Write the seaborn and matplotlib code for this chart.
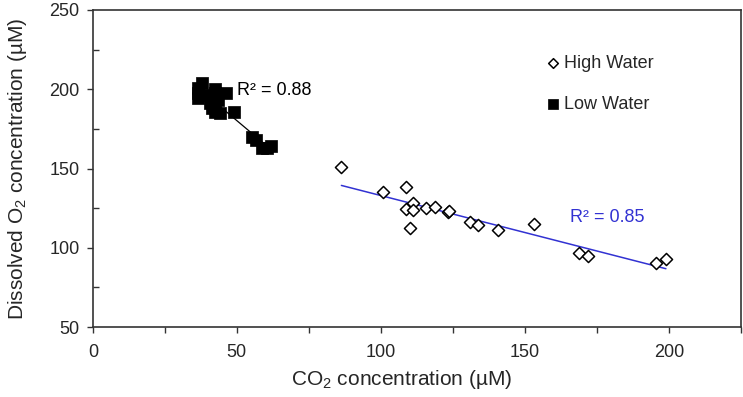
import numpy as np
import pandas as pd
import seaborn as sns
import matplotlib.pyplot as plt
from matplotlib.ticker import MultipleLocator

# High water (open diamonds)
high_co2 = [86.3, 100.8, 108.7, 111.2, 108.7, 111.2, 110.1, 115.6, 118.8, 123.2, 123.7,
            131.1, 133.8, 140.7, 153.2, 168.9, 172.0, 195.7, 199.0]
high_o2 = [151.1, 135.0, 138.1, 128.0, 124.4, 123.8, 112.3, 124.9, 125.5, 122.6, 123.3,
           116.4, 114.4, 111.2, 115.0, 96.5, 95.0, 90.6, 92.7]

# Low water (filled squares)
low_co2 = [38.0, 36.6, 36.6, 36.6, 42.4, 46.2, 38.3, 41.2, 42.4, 40.6, 41.2, 42.4,
           44.1, 43.5, 49.0, 55.1, 56.6, 58.6, 60.3, 62.0]
low_o2 = [204.1, 200.6, 197.4, 194.3, 200.0, 197.4, 196.4, 195.3, 197.4, 191.1, 188.0,
          185.8, 184.8, 193.2, 185.5, 170.1, 168.0, 162.7, 162.7, 164.2]

r2_low = "R² = 0.88"
r2_high = "R² = 0.85"

sns.set_style("white")
plt.rcParams["font.family"] = ["Liberation Sans", "DejaVu Sans"]
plt.rcParams["mathtext.fontset"] = "custom"
plt.rcParams["mathtext.rm"] = "Liberation Sans"

df = pd.concat([
    pd.DataFrame({"CO2": high_co2, "O2": high_o2, "Season": "High Water"}),
    pd.DataFrame({"CO2": low_co2, "O2": low_o2, "Season": "Low Water"}),
])
high_df = df[df["Season"] == "High Water"]
low_df = df[df["Season"] == "Low Water"]

fig = plt.figure(figsize=(7.43, 3.97), dpi=100)
ax = fig.add_axes([0.125, 0.176, 0.872, 0.799])

line_blue = "#3232d2"

# trend lines
sns.regplot(data=high_df, x="CO2", y="O2", scatter=False, ci=None, ax=ax,
            line_kws={"color": line_blue, "lw": 1.1})
sns.regplot(data=low_df, x="CO2", y="O2", scatter=False, ci=None, ax=ax,
            line_kws={"color": "black", "lw": 0.9})

sns.scatterplot(data=high_df, x="CO2", y="O2", marker="D", s=38, facecolor="white",
                edgecolor="black", linewidth=1.1, ax=ax, label="High Water", zorder=3)
sns.scatterplot(data=low_df, x="CO2", y="O2", marker="s", s=75, color="black",
                edgecolor="black", linewidth=0.5, ax=ax, label="Low Water", zorder=3)

ax.text(50, 199.5, r2_low, fontsize=13, color="black", va="center")
ax.text(165.6, 119.2, r2_high, fontsize=13, color=line_blue, va="center")

ax.set_xlim(0, 225)
ax.set_ylim(50, 250)
ax.xaxis.set_major_locator(MultipleLocator(50))
ax.xaxis.set_minor_locator(MultipleLocator(25))
ax.yaxis.set_major_locator(MultipleLocator(50))
ax.yaxis.set_minor_locator(MultipleLocator(25))
ax.tick_params(axis="both", which="major", direction="out", length=4, width=1,
               labelsize=13, bottom=True, left=True, color="#333333")
ax.tick_params(axis="x", which="major", pad=8)
ax.tick_params(axis="y", which="major", pad=5.5)
ax.tick_params(axis="x", which="minor", direction="out", length=4, width=1, bottom=True,
               color="#333333")
ax.tick_params(axis="y", which="minor", direction="in", length=4, width=1, left=True,
               color="#333333")
for sp in ax.spines.values():
    sp.set_color("#333333")
    sp.set_linewidth(1.2)

ax.set_xlabel(r"CO$\mathregular{_2}$ concentration (µM)", fontsize=15)
ax.set_ylabel(r"Dissolved O$\mathregular{_2}$ concentration (µM)", fontsize=15)
ax.xaxis.set_label_coords(0.477, -0.13)
ax.yaxis.set_label_coords(-0.098, 0.5)

leg = ax.legend(loc="upper left", bbox_to_anchor=(0.668, 0.91), frameon=False,
                fontsize=13, handletextpad=0.0, labelspacing=1.35, handlelength=1.2,
                markerscale=0.8)

fig.savefig("out.png", dpi=100)
